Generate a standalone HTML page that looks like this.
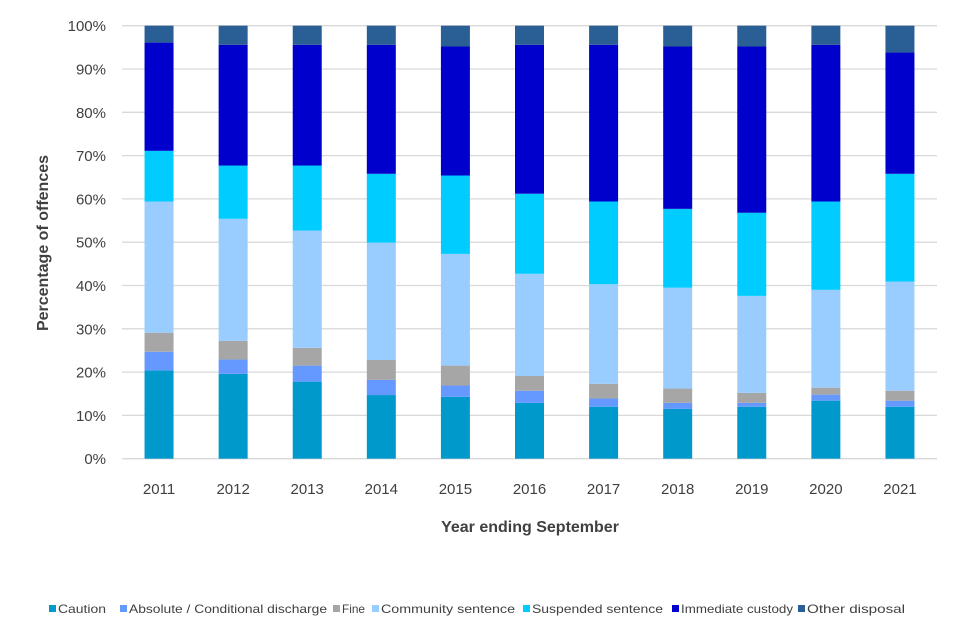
<!DOCTYPE html>
<html><head><meta charset="utf-8"><style>
html,body{margin:0;padding:0;background:#fff;}
svg{display:block;font-family:"Liberation Sans",sans-serif;}
</style></head><body>
<svg id="chart" width="960" height="640"></svg>
<script>
const categories=["2011","2012","2013","2014","2015","2016","2017","2018","2019","2020","2021"];
const seriesNames=["Caution","Absolute / Conditional discharge","Fine","Community sentence","Suspended sentence","Immediate custody","Other disposal"];
const caution=[20.4,19.6,17.8,14.7,14.3,12.9,12.0,11.5,12.0,13.4,12.0];
const discharge=[4.3,3.3,3.7,3.5,2.6,2.8,1.9,1.4,0.9,1.4,1.4];
const fine=[4.4,4.3,4.1,4.6,4.6,3.4,3.4,3.3,2.3,1.6,2.3];
const community=[30.3,28.2,27.1,27.1,25.8,23.6,23.0,23.3,22.4,22.6,25.2];
const suspended=[11.7,12.3,15.0,15.9,18.1,18.5,19.1,18.2,19.2,20.4,24.9];
const custody=[25.0,27.9,27.9,29.8,29.8,34.4,36.2,37.5,38.4,36.2,28.0];
const other=[3.9,4.4,4.4,4.4,4.8,4.4,4.4,4.8,4.8,4.4,6.2];
const yTicks=[0,10,20,30,40,50,60,70,80,90,100];
const series=[caution,discharge,fine,community,suspended,custody,other];
const colors=["#0099cc","#6699ff","#a6a6a6","#99ccff","#00ccff","#0000cc","#2a5f96"];
const slugs=["caution","discharge","fine","community","suspended","custody","other"];
const NS="http://www.w3.org/2000/svg";
const svg=document.getElementById("chart");
const L=122,R=937,T=25.7,B=458.7;
const y=v=>B-(v/100)*(B-T);
const step=(R-L)/categories.length;
const xc=i=>L+step*(i+0.5);
const bw=29;
function mk(t,a){const e=document.createElementNS(NS,t);for(const k in a)e.setAttribute(k,a[k]);svg.appendChild(e);return e;}
yTicks.forEach(t=>{
  const g=mk("line",{x1:L,x2:R,y1:y(t),y2:y(t),stroke:"#d9d9d9","stroke-width":1.3});
  
  
  const tx=mk("text",{x:106,y:y(t)+5.5,"text-anchor":"end","font-size":15,fill:"#404040"});
  tx.textContent=t+"%";
  
  
});
categories.forEach((c,i)=>{
  let cum=0;
  series.forEach((s,k)=>{
    const v=s[i];
    const r=mk("rect",{x:xc(i)-bw/2,y:y(cum+v),width:bw,height:y(cum)-y(cum+v),fill:colors[k]});
    
    
    cum+=v;
  });
  const tx=mk("text",{x:xc(i),y:494,"text-anchor":"middle","font-size":15,fill:"#404040"});
  tx.textContent=c;
  
  
});
const xt=mk("text",{x:530,y:532,"text-anchor":"middle","font-size":16,"font-weight":"bold",fill:"#404040"});
xt.textContent="Year ending September";


const yt=mk("text",{x:0,y:0,"text-anchor":"middle","font-size":16,"font-weight":"bold",fill:"#404040",transform:"translate(48,243) rotate(-90)"});
yt.textContent="Percentage of offences";


const legendX=[49,120,333,372,523,672,798];
const legendEnd=[106,327,365,515,663,793,905];
legendX.forEach((lx,k)=>{
  const r=mk("rect",{x:lx,y:605,width:7,height:7,fill:colors[k]});
  
  
  const t=mk("text",{x:lx+9,y:613,"font-size":12,fill:"#404040",textLength:legendEnd[k]-lx-9,lengthAdjust:"spacingAndGlyphs"});
  t.textContent=seriesNames[k];
  
  
});
</script>
</body></html>
